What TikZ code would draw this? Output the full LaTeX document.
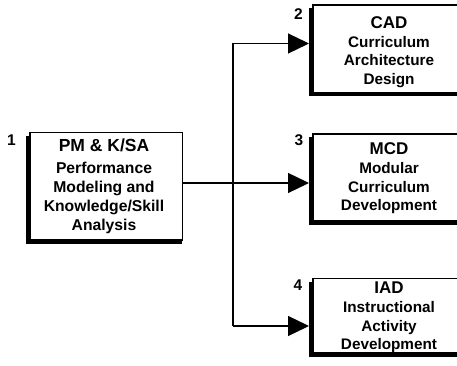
\documentclass[tikz,border=0pt]{standalone}
\usepackage{fontspec}
\setmainfont{Liberation Sans}
\usetikzlibrary{arrows.meta,backgrounds,calc}
\begin{document}
\begin{tikzpicture}[x=1pt,y=-1pt,
  box/.style={draw=black,line width=1.1pt,fill=white,rectangle,inner sep=0pt,outer sep=0pt,anchor=north west},
  shade/.style={fill=black},
  ttl/.style={anchor=base,inner sep=0pt,font=\fontsize{17}{20}\selectfont\bfseries},
  txt/.style={anchor=base,inner sep=0pt,font=\fontsize{15.3}{18}\selectfont\bfseries},
  bigttl/.style={anchor=base,inner sep=0pt,font=\fontsize{17.5}{20}\selectfont\bfseries},
  bigtxt/.style={anchor=base,inner sep=0pt,font=\fontsize{15.7}{18}\selectfont\bfseries},
  num/.style={anchor=base,inner sep=0pt,font=\fontsize{15.5}{18}\selectfont\bfseries},
  conn/.style={draw=black,line width=1.3pt},
  arr/.style={conn,-{Triangle[length=21pt,width=20pt]},shorten >=4pt}]
\useasboundingbox (0,0) rectangle (457,366);
\clip (0,0) rectangle (457,366);
% boxes
\node[box,minimum width=152.7pt,minimum height=107.7pt] (b1) at (30,132.3) {};
\node[box,minimum width=152pt,minimum height=87.7pt] (b2) at (313,5) {};
\node[box,minimum width=152pt,minimum height=87pt] (b3) at (313,134) {};
\node[box,minimum width=152pt,minimum height=74.7pt] (b4) at (313,278.3) {};
\begin{scope}[on background layer]
\fill[white] (0,0) rectangle (457,366);
\foreach \b in {b1,b2,b3,b4}{
  \fill[shade] ($(\b.north west)+(-4.5,3.5)$) rectangle ($(\b.south east)+(-1,3.8)$);
}
\end{scope}
% numbers
\node[num] (n1) at (11.5,146) {1};
\node[num] (n2) at (298.5,20) {2};
\node[num] (n3) at (299,146) {3};
\node[num] (n4) at (298,290) {4};
% texts box 1
\node[bigttl] (b1t) at (104,151) {PM \& K/SA};
\node[bigtxt] (b1a) at (104,173) {Performance};
\node[bigtxt] (b1b) at (104,192) {Modeling and};
\node[bigtxt] (b1c) at (104,211.5) {Knowledge/Skill};
\node[bigtxt] (b1d) at (104,230) {Analysis};
% box 2
\node[ttl] (b2t) at (389,28.3) {CAD};
\node[txt] (b2a) at (389,47.3) {Curriculum};
\node[txt] (b2b) at (389,66) {Architecture};
\node[txt] (b2c) at (389,85) {Design};
% box 3
\node[ttl] (b3t) at (389,155) {MCD};
\node[txt] (b3a) at (389,173.5) {Modular};
\node[txt] (b3b) at (389,192) {Curriculum};
\node[txt] (b3c) at (389,210.5) {Development};
% box 4
\node[ttl] (b4t) at (389,293) {IAD};
\node[txt] (b4a) at (389,312) {Instructional};
\node[txt] (b4b) at (389,331) {Activity};
\node[txt] (b4c) at (389,349.5) {Development};
% connectors
\coordinate (jt) at (233,43.5);
\coordinate (jm) at (233,183);
\coordinate (jb) at (233,326);
\draw[conn] (b1.east |- jm) -- (jm);
\draw[conn] (jt) -- (jb);
\draw[arr] (jt) -- (jt -| b2.west);
\draw[arr] (jm) -- (jm -| b3.west);
\draw[arr] (jb) -- (jb -| b4.west);
\end{tikzpicture}
\end{document}
